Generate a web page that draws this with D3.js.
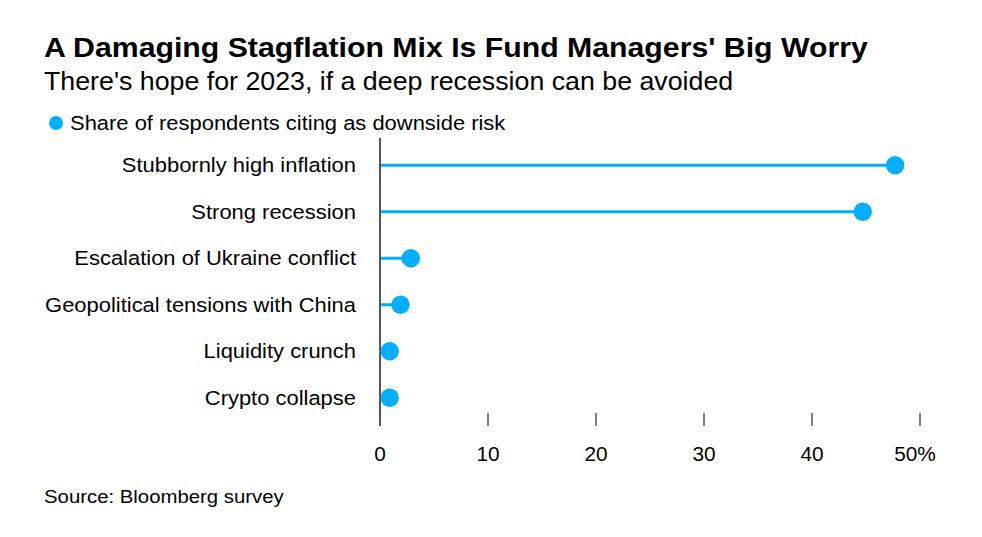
<!DOCTYPE html>
<html>
<head>
<meta charset="utf-8">
<script src="https://cdn.jsdelivr.net/npm/d3@7"></script>
<style>
  body { margin: 0; background: #fff; }
  text { font-family: "Liberation Sans", Arial, sans-serif; fill: #000; }
</style>
</head>
<body>
<div id="app"></div>
<script>
"use strict";

const categories = [
  "Stubbornly high inflation",
  "Strong recession",
  "Escalation of Ukraine conflict",
  "Geopolitical tensions with China",
  "Liquidity crunch",
  "Crypto collapse"
];
const shares = [47.7, 44.7, 2.85, 1.9, 0.9, 0.9];
const tickValues = [0, 10, 20, 30, 40, 50];
const tickLabels = ["0", "10", "20", "30", "40", "50%"];

const width = 982, height = 537;
const blue = "#00aeff";
const axisGray = "#555";

// the original face is a bit wider than Liberation Sans, so widen a little
function widen(sel, k) {
  sel.each(function () {
    const w = this.getComputedTextLength();
    d3.select(this)
      .attr("textLength", w * k)
      .attr("lengthAdjust", "spacingAndGlyphs");
  });
  return sel;
}

const svg = d3.select("#app").append("svg")
  .attr("width", width)
  .attr("height", height);

widen(svg.append("text")
  .attr("x", 44).attr("y", 57)
  .style("font-size", "27px").style("font-weight", "bold")
  .text("A Damaging Stagflation Mix Is Fund Managers' Big Worry"), 1.12);

widen(svg.append("text")
  .attr("x", 44).attr("y", 90)
  .style("font-size", "25px")
  .text("There's hope for 2023, if a deep recession can be avoided"), 1.07);

// legend
svg.append("circle").attr("cx", 56).attr("cy", 123).attr("r", 7).attr("fill", blue);
widen(svg.append("text")
  .attr("x", 70).attr("y", 129.5)
  .style("font-size", "20.5px")
  .text("Share of respondents citing as downside risk"), 1.07);

const x = d3.scaleLinear().domain([0, 50]).range([380, 920]);
const y = d3.scaleBand().domain(categories).range([142, 421]);

const rows = categories.map((c, i) => ({ name: c, value: shares[i] }));

// category labels
widen(svg.append("g").selectAll("text")
  .data(rows).join("text")
  .attr("x", 356)
  .attr("y", d => y(d.name) + y.bandwidth() / 2 + 7)
  .attr("text-anchor", "end")
  .style("font-size", "20.5px")
  .text(d => d.name), 1.07);

// ticks
svg.append("g").selectAll("line")
  .data(tickValues.slice(1)).join("line")
  .attr("x1", d => x(d)).attr("x2", d => x(d))
  .attr("y1", 413).attr("y2", 426)
  .attr("stroke", axisGray).attr("stroke-width", 1.5);

widen(svg.append("g").selectAll("text")
  .data(tickValues).join("text")
  .attr("x", (d, i) => i === tickValues.length - 1 ? x(d) - 5 : x(d))
  .attr("y", 461)
  .attr("text-anchor", "middle")
  .style("font-size", "20px")
  .text((d, i) => tickLabels[i]), 1.04);

// stems
svg.append("g").selectAll("line")
  .data(rows).join("line")
  .attr("x1", x(0))
  .attr("x2", d => x(d.value))
  .attr("y1", d => y(d.name) + y.bandwidth() / 2)
  .attr("y2", d => y(d.name) + y.bandwidth() / 2)
  .attr("stroke", blue).attr("stroke-width", 3);

// axis line
svg.append("line")
  .attr("x1", x(0)).attr("x2", x(0))
  .attr("y1", 138).attr("y2", 426)
  .attr("stroke", axisGray).attr("stroke-width", 2);

// dots
svg.append("g").selectAll("circle")
  .data(rows).join("circle")
  .attr("cx", d => x(d.value))
  .attr("cy", d => y(d.name) + y.bandwidth() / 2)
  .attr("r", 9.2)
  .attr("fill", blue);

widen(svg.append("text")
  .attr("x", 44).attr("y", 503)
  .style("font-size", "18px")
  .text("Source: Bloomberg survey"), 1.13);
</script>
</body>
</html>
